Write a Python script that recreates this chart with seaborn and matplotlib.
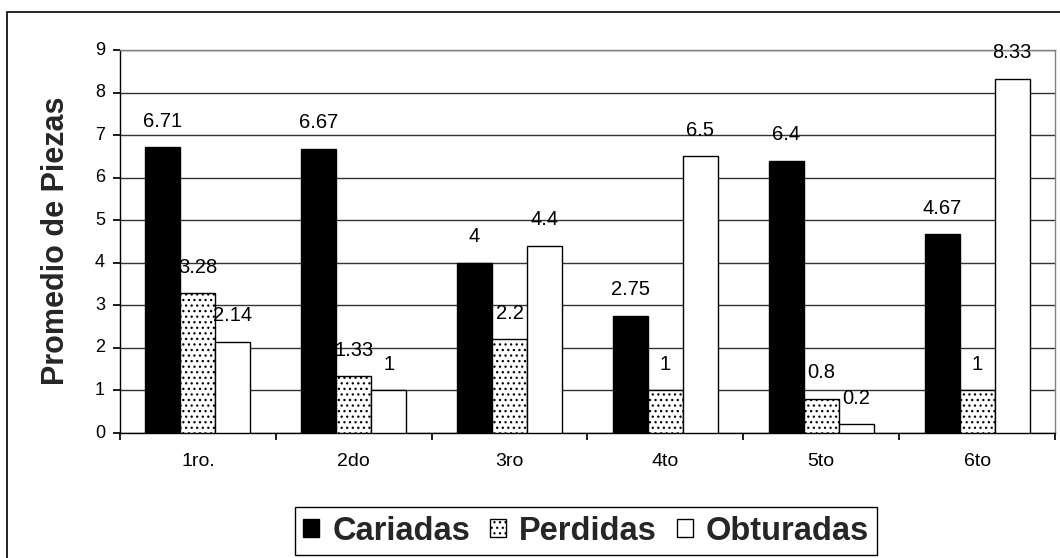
import matplotlib
matplotlib.use('Agg')
import matplotlib.pyplot as plt
import seaborn as sns
import pandas as pd
import numpy as np
from matplotlib.patches import Patch, Rectangle

grados = ['1ro.', '2do', '3ro', '4to', '5to', '6to']
cariadas = [6.71, 6.67, 4, 2.75, 6.4, 4.67]
perdidas = [3.28, 1.33, 2.2, 1, 0.8, 1]
obturadas = [2.14, 1, 4.4, 6.5, 0.2, 8.33]
series = ['Cariadas', 'Perdidas', 'Obturadas']
y_ticks = list(range(0, 10))

sns.set_theme(style='white')
plt.rcParams['font.family'] = ['Liberation Sans', 'DejaVu Sans']
plt.rcParams['hatch.linewidth'] = 0.9
plt.rcParams['hatch.color'] = '#444444'

df = pd.DataFrame({
    'Grado': grados * 3,
    'Serie': [s for s in series for _ in grados],
    'Valor': cariadas + perdidas + obturadas,
})

W, H = 1060, 558
fig = plt.figure(figsize=(W / 100, H / 100), dpi=100)
ax = fig.add_axes([120 / W, 125 / H, 935 / W, 383 / H])
sns.barplot(data=df, x='Grado', y='Valor', hue='Serie', order=grados,
            hue_order=series, palette=['black', 'white', 'white'],
            width=0.674, edgecolor='black', linewidth=1, saturation=1,
            ax=ax, legend=False, zorder=3)

for p in ax.containers[1]:
    p.set_hatch('...')

for cont, vals in zip(ax.containers, [cariadas, perdidas, obturadas]):
    ax.bar_label(cont, labels=[f'{v:g}' for v in vals], padding=12,
                 fontsize=14.5, color='black', zorder=5)

ax.set_ylim(0, 9)
ax.set_xlim(-0.5, 5.5)
ax.set_xlabel('')
ax.set_ylabel('')
ax.set_axisbelow(True)
ax.yaxis.grid(True, color='#333333', lw=1)
ax.xaxis.grid(False)
for s in ['left', 'bottom']:
    ax.spines[s].set_color('black')
    ax.spines[s].set_linewidth(1)
for s in ['top', 'right']:
    ax.spines[s].set_color('#808080')
    ax.spines[s].set_linewidth(1)

# y ticks: marks from the axis, labels as text
ax.set_yticks(y_ticks)
ax.set_yticklabels([])
ax.tick_params(axis='y', direction='out', length=5, color='black', left=True)
ytr = ax.get_yaxis_transform()
for t in y_ticks:
    ax.text(-0.016, t, str(t), transform=ytr, ha='right', va='center',
            fontsize=13, color='black')

# x ticks at group boundaries, category names centred below
ax.set_xticks(np.arange(-0.5, 6, 1))
ax.set_xticklabels([])
ax.tick_params(axis='x', direction='out', length=5, color='black', bottom=True)
xtr = ax.get_xaxis_transform()
for i, g in enumerate(grados):
    ax.text(i, -0.053, g, transform=xtr, ha='center', va='top',
            fontsize=14, color='black')

fig.text(56 / W, (H - 241) / H, 'Promedio de Piezas', rotation=90,
         ha='center', va='center', fontsize=22, fontweight='bold')

fig.patches.append(Rectangle((7 / W, -0.05), 1.1, (H - 12) / H + 0.05,
                             transform=fig.transFigure, fill=False,
                             edgecolor='black', lw=1.2))

handles = [Patch(facecolor='black', edgecolor='black'),
           Patch(facecolor='white', edgecolor='black', hatch='...'),
           Patch(facecolor='white', edgecolor='black')]
leg = fig.legend(handles, series, loc='center',
                 bbox_to_anchor=(586 / W, 27 / H), ncol=3,
                 prop={'weight': 'bold', 'size': 23.5}, frameon=True,
                 fancybox=False, edgecolor='black', handlelength=0.5,
                 handleheight=0.5, handletextpad=0.4, columnspacing=0.6,
                 borderpad=0.25, framealpha=1)
leg.get_frame().set_linewidth(1)

fig.savefig('out.png', dpi=100)
